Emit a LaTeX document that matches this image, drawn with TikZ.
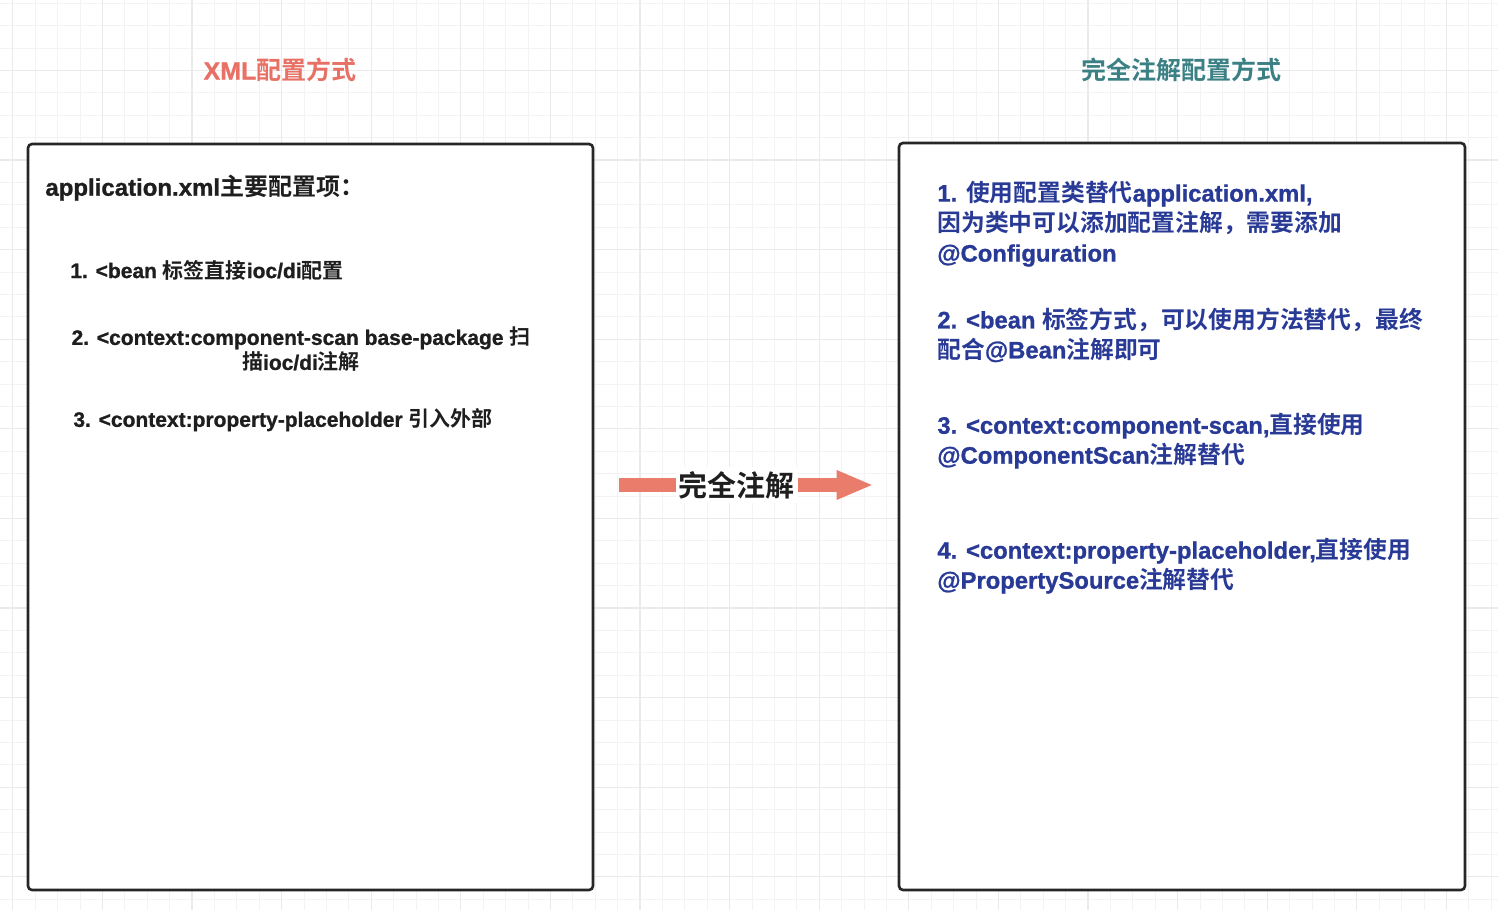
\documentclass[tikz,border=0pt]{standalone}
\usepackage{fontspec}
\setmainfont{Liberation Sans}[UprightFont={* Bold}, BoldFont={* Bold}, FakeBold=1]
\newfontfamily\latfam{Liberation Sans}[UprightFont={* Bold}, BoldFont={* Bold}, FakeBold=1]
\newfontfamily\cjkfam{Noto Sans CJK SC}[UprightFont={* Bold}, BoldFont={* Bold}]
\usetikzlibrary{positioning,arrows.meta}
\usepackage{xcolor}
\definecolor{xmlc}{RGB}{232,112,100}
\definecolor{annoc}{RGB}{58,128,132}
\definecolor{itemc}{RGB}{40,58,150}
\definecolor{textc}{RGB}{30,30,30}
\definecolor{gridc}{RGB}{243,243,243}
\definecolor{gridm}{RGB}{234,234,234}
\definecolor{flowc}{RGB}{234,124,108}
\newXeTeXintercharclass\cjkclass
\count255="4E00
\loop\XeTeXcharclass\count255=\cjkclass\advance\count255 by 1 \ifnum\count255<"A000 \repeat
\XeTeXcharclass"FF0C=\cjkclass
\XeTeXcharclass"FF1A=\cjkclass
\XeTeXinterchartoks 0 \cjkclass={\cjkfam}
\XeTeXinterchartoks 4095 \cjkclass={\cjkfam}
\XeTeXinterchartoks \cjkclass 0={\latfam}
\XeTeXinterchartoks 4095 0={\latfam}
\XeTeXinterchartokenstate=1
\tikzset{
  gridline/.style={draw=gridc, line width=0.5pt},
  gridmajor/.style={draw=gridm, line width=0.6pt},
  panel/.style={draw=black!85, line width=1.3pt, rounded corners=2pt, fill=white},
  heading/.style={font=\bfseries\fontsize{12.5}{15}\selectfont, inner sep=0pt},
  xmltext/.style={text=textc, align=left, anchor=west, inner sep=0pt, font=\bfseries\fontsize{10.5}{12.5}\selectfont},
  annotext/.style={text=itemc, align=left, anchor=west, inner sep=0pt, font=\bfseries\fontsize{11.9}{15}\selectfont},
  bigflow/.style={draw=flowc, line width=7pt, -{Triangle[length=17.5pt, width=15pt, line width=0pt]}, shorten <=12.5pt, shorten >=13pt},
  flowlabel/.style={fill=white, text=textc, inner xsep=1.5pt, inner ysep=2pt, font=\bfseries\fontsize{14.5}{16}\selectfont}
}
\begin{document}
\begin{tikzpicture}[x=0.5pt, y=-0.5pt]
  \useasboundingbox (0,0) rectangle (1498,910);
  \fill[white] (0,0) rectangle (1498,910);
  \foreach \k in {0,...,66} \draw[gridline] ({12.8+22.4*\k},0) -- ++(0,910);
  \foreach \k in {0,...,40} \draw[gridline] (0,{3.2+22.4*\k}) -- ++(1498,0);
  \foreach \k in {0,...,16} \draw[gridmajor] ({12.8+89.6*\k},0) -- ++(0,910);
  \foreach \k in {0,...,9} \draw[gridmajor] (0,{70.4+89.6*\k}) -- ++(1498,0);

  \node[heading, text=xmlc] (xmltitle) at (280,70) {XML配置方式};
  \node[heading, text=annoc] (annotitle) at (1181,70) {完全注解配置方式};

  \node[panel, minimum width=282.5pt, minimum height=373pt] (xmlbox) at (310.5,517) {};
  \node[panel, minimum width=283pt, minimum height=373.5pt] (annobox) at (1182,516.5) {};

  \node[xmltext, font=\bfseries\fontsize{12}{13}\selectfont] (xmlhead) at (45,188) {application.xml主要配置项：};
  \node[xmltext] (x1) at (70,270) {1. <bean 标签直接ioc/di配置};
  \node[xmltext, align=center, anchor=center] (x2) at (301,349.5) {2. <context:component-scan base-package 扫\\描ioc/di注解};
  \node[xmltext] (x3) at (73,420) {3. <context:property-placeholder 引入外部};

  \node[annotext] (a1) at (937,224) {1. 使用配置类替代application.xml,\\因为类中可以添加配置注解，需要添加\\@Configuration};
  \node[annotext] (a2) at (937,335) {2. <bean 标签方式，可以使用方法替代，最终\\配合@Bean注解即可};
  \node[annotext] (a3) at (937,441) {3. <context:component-scan,直接使用\\@ComponentScan注解替代};
  \node[annotext] (a4) at (937,566) {4. <context:property-placeholder,直接使用\\@PropertySource注解替代};

  \coordinate (flowy) at (0,485);
  \draw[bigflow] (xmlbox.east |- flowy) -- node[flowlabel, pos=0.47] (flowlbl) {完全注解} (annobox.west |- flowy);
\end{tikzpicture}
\end{document}
